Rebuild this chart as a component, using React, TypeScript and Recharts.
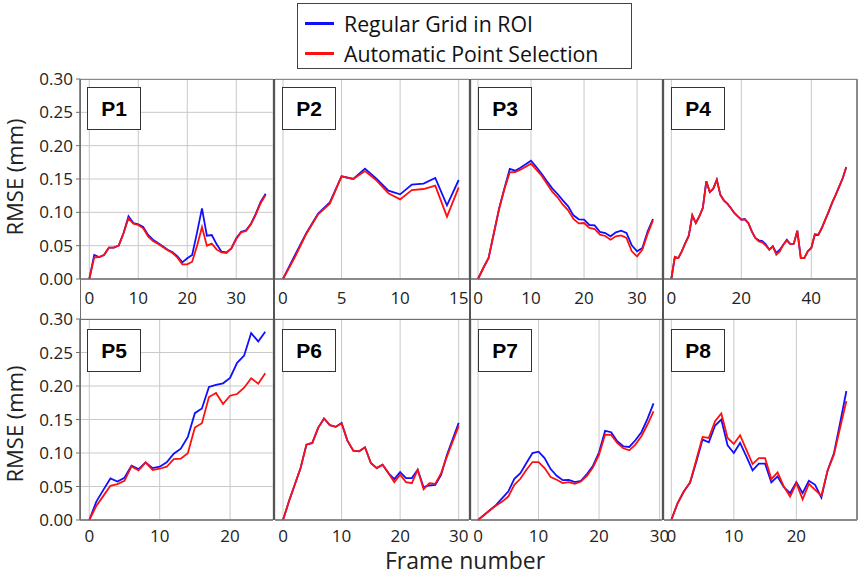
import React from 'react';
import { LineChart, Line, XAxis, YAxis, CartesianGrid } from 'recharts';

const BLUE = '#1010ff';
const RED = '#ff1010';
const FONT = '"Open Sans", "Noto Sans", sans-serif';

const seriesNames = ['Regular Grid in ROI', 'Automatic Point Selection'];
const yTicks = [0, 0.05, 0.1, 0.15, 0.2, 0.25, 0.3];

// P1
const p1Grid = [0, 0.036, 0.033, 0.036, 0.047, 0.047, 0.05, 0.069, 0.094, 0.084, 0.082, 0.078, 0.066, 0.059, 0.054, 0.049, 0.044, 0.04, 0.034, 0.025, 0.031, 0.036, 0.07, 0.106, 0.065, 0.066, 0.052, 0.041, 0.04, 0.046, 0.061, 0.071, 0.073, 0.083, 0.098, 0.116, 0.128];
const p1Auto = [0, 0.032, 0.033, 0.036, 0.047, 0.047, 0.05, 0.069, 0.091, 0.083, 0.081, 0.076, 0.064, 0.057, 0.053, 0.048, 0.043, 0.039, 0.032, 0.022, 0.022, 0.026, 0.05, 0.078, 0.05, 0.053, 0.044, 0.04, 0.039, 0.046, 0.06, 0.07, 0.072, 0.082, 0.097, 0.114, 0.126];
const p1Ticks = [0, 10, 20, 30];

// P2
const p2Grid = [0, 0.035, 0.069, 0.098, 0.115, 0.154, 0.15, 0.1655, 0.15, 0.1325, 0.127, 0.1415, 0.143, 0.1515, 0.1105, 0.1485];
const p2Auto = [0, 0.032, 0.068, 0.097, 0.113, 0.154, 0.15, 0.162, 0.1475, 0.1285, 0.1195, 0.1335, 0.135, 0.14, 0.0935, 0.1375];
const p2Ticks = [0, 5, 10, 15];

// P3
const p3Grid = [0, 0.0165, 0.0315, 0.069, 0.1065, 0.1365, 0.165, 0.1625, 0.167, 0.172, 0.1775, 0.168, 0.158, 0.1465, 0.136, 0.1275, 0.118, 0.109, 0.0955, 0.0895, 0.089, 0.081, 0.0805, 0.0705, 0.069, 0.064, 0.07, 0.0725, 0.069, 0.0505, 0.0415, 0.0465, 0.0715, 0.09];
const p3Auto = [0, 0.0165, 0.0315, 0.069, 0.1055, 0.1355, 0.16, 0.1605, 0.164, 0.1685, 0.173, 0.164, 0.155, 0.143, 0.131, 0.1225, 0.1115, 0.103, 0.09, 0.0835, 0.084, 0.0765, 0.075, 0.0665, 0.0645, 0.059, 0.064, 0.0655, 0.0615, 0.0415, 0.034, 0.044, 0.068, 0.088];
const p3Ticks = [0, 10, 20, 30];

// P4
const p4Grid = [0, 0.033, 0.0315, 0.0415, 0.054, 0.065, 0.0955, 0.084, 0.094, 0.1065, 0.1465, 0.1305, 0.1355, 0.149, 0.1265, 0.118, 0.113, 0.1065, 0.099, 0.094, 0.089, 0.09, 0.084, 0.0715, 0.0615, 0.058, 0.057, 0.052, 0.044, 0.049, 0.039, 0.044, 0.0515, 0.059, 0.0525, 0.053, 0.0725, 0.0315, 0.0315, 0.0415, 0.0465, 0.066, 0.066, 0.0765, 0.089, 0.1015, 0.115, 0.1265, 0.139, 0.1515, 0.168];
const p4Auto = [0, 0.033, 0.0315, 0.0415, 0.054, 0.065, 0.0955, 0.084, 0.094, 0.1065, 0.1465, 0.1305, 0.1355, 0.149, 0.1265, 0.118, 0.113, 0.1065, 0.099, 0.094, 0.089, 0.089, 0.084, 0.0715, 0.0615, 0.0565, 0.055, 0.05, 0.044, 0.049, 0.0365, 0.0415, 0.0515, 0.0575, 0.0525, 0.053, 0.0725, 0.0315, 0.0315, 0.0415, 0.0465, 0.0675, 0.0665, 0.0765, 0.089, 0.1015, 0.115, 0.1265, 0.139, 0.1515, 0.168];
const p4Ticks = [0, 20, 40];

// P5
const p5Grid = [0, 0.0275, 0.045, 0.062, 0.0575, 0.063, 0.081, 0.076, 0.086, 0.0775, 0.0795, 0.086, 0.099, 0.1065, 0.124, 0.1595, 0.1665, 0.1985, 0.2015, 0.204, 0.212, 0.2345, 0.2455, 0.279, 0.2665, 0.281];
const p5Auto = [0, 0.021, 0.036, 0.051, 0.0535, 0.0585, 0.08, 0.074, 0.086, 0.0745, 0.0765, 0.0795, 0.091, 0.0915, 0.0995, 0.138, 0.1445, 0.1835, 0.1895, 0.173, 0.1855, 0.188, 0.1975, 0.2115, 0.2035, 0.219];
const p5Ticks = [0, 10, 20];

// P6
const p6Grid = [0, 0.0275, 0.0525, 0.0775, 0.1125, 0.115, 0.1375, 0.1515, 0.1415, 0.139, 0.145, 0.1185, 0.1035, 0.1025, 0.1085, 0.085, 0.0775, 0.0825, 0.07, 0.061, 0.0715, 0.0625, 0.0625, 0.075, 0.049, 0.0515, 0.0525, 0.0675, 0.0975, 0.121, 0.145];
const p6Auto = [0, 0.0275, 0.0525, 0.0775, 0.1125, 0.115, 0.1375, 0.1515, 0.1415, 0.139, 0.144, 0.1185, 0.1035, 0.1025, 0.1085, 0.085, 0.0775, 0.0825, 0.07, 0.0565, 0.0675, 0.0565, 0.055, 0.075, 0.046, 0.055, 0.054, 0.07, 0.095, 0.1175, 0.14];
const p6Ticks = [0, 10, 20, 30];

// P7
const p7Grid = [0, 0.0075, 0.015, 0.0225, 0.0325, 0.0425, 0.0615, 0.07, 0.085, 0.1, 0.102, 0.0925, 0.076, 0.066, 0.0595, 0.06, 0.0565, 0.0585, 0.0685, 0.081, 0.101, 0.133, 0.131, 0.1175, 0.11, 0.109, 0.119, 0.131, 0.151, 0.174];
const p7Auto = [0, 0.0075, 0.015, 0.0215, 0.0275, 0.035, 0.0525, 0.0615, 0.075, 0.0865, 0.0865, 0.0775, 0.064, 0.06, 0.055, 0.0565, 0.054, 0.0575, 0.066, 0.0785, 0.0975, 0.1275, 0.127, 0.115, 0.107, 0.104, 0.1125, 0.125, 0.1425, 0.162];
const p7Ticks = [0, 10, 20, 30];

// P8
const p8Grid = [0, 0.025, 0.0425, 0.056, 0.087, 0.12, 0.116, 0.141, 0.15, 0.1115, 0.1, 0.115, 0.095, 0.074, 0.084, 0.084, 0.056, 0.065, 0.049, 0.04, 0.0565, 0.04, 0.0585, 0.0525, 0.0335, 0.074, 0.099, 0.145, 0.1925];
const p8Auto = [0, 0.025, 0.0425, 0.056, 0.09, 0.124, 0.1225, 0.1475, 0.159, 0.1225, 0.1135, 0.1265, 0.105, 0.0835, 0.0925, 0.0925, 0.061, 0.071, 0.05, 0.035, 0.055, 0.031, 0.054, 0.045, 0.036, 0.074, 0.0975, 0.1375, 0.1775];
const p8Ticks = [0, 10, 20];

type PanelProps = {
  name: string;
  grid: number[];
  auto: number[];
  ticks: number[];
  domain: [number, number];
  left: number;
  top: number;
  width: number;
  plotH: number;
  showY: boolean;
  tickGap: number;
  boxTop: number;
};

const Panel = ({ name, grid, auto, ticks, domain, left, top, width, plotH, showY, tickGap, boxTop }: PanelProps) => {
  const data = grid.map((g, i) => ({ frame: i, grid: g, auto: auto[i] }));
  const yW = showY ? 80 : 0;
  return (
    <div style={{ position: 'absolute', left, top }}>
      <LineChart width={width} height={9 + plotH + 40} data={data} margin={{ top: 9, right: 0, left: 0, bottom: 0 }}>
        <CartesianGrid stroke="#c9c9c9" strokeWidth={1} />
        <XAxis
          dataKey="frame"
          type="number"
          domain={domain}
          ticks={ticks}
          interval={0}
          height={40}
          tickLine={false}
          tickSize={0}
          tickMargin={tickGap}
          axisLine={{ stroke: '#6e6e6e', strokeWidth: 1.5 }}
          tick={{ fill: '#222', fontSize: 17, fontFamily: FONT }}
        />
        <YAxis
          domain={[0, 0.3]}
          ticks={yTicks}
          interval={0}
          width={yW}
          tick={showY ? { fill: '#222', fontSize: 17, fontFamily: FONT } : false}
          tickFormatter={(v: number) => v.toFixed(2)}
          axisLine={showY ? { stroke: '#6e6e6e', strokeWidth: 1.5 } : false}
          tickLine={showY ? { stroke: '#6e6e6e' } : false}
          tickSize={4}
          tickMargin={3}
        />
        <Line dataKey="grid" name={seriesNames[0]} stroke={BLUE} strokeWidth={1.8} dot={false} type="linear" isAnimationActive={false} />
        <Line dataKey="auto" name={seriesNames[1]} stroke={RED} strokeWidth={1.8} dot={false} type="linear" isAnimationActive={false} />
      </LineChart>
      <div
        style={{
          position: 'absolute',
          left: yW + 7,
          top: boxTop,
          width: 52,
          height: 41,
          border: '1px solid #333',
          background: '#fff',
          display: 'flex',
          alignItems: 'center',
          justifyContent: 'center',
          fontFamily: '"Liberation Sans", Arial, sans-serif',
          fontWeight: 700,
          fontSize: 21,
          color: '#000',
        }}
      >
        {name}
      </div>
    </div>
  );
};

const vLine = (x: number, w: number, color: string, y1: number, y2: number) => (
  <div style={{ position: 'absolute', left: x, top: y1, width: w, height: y2 - y1, background: color }} />
);
const hLine = (y: number, x1: number, x2: number, color: string) => (
  <div style={{ position: 'absolute', left: x1, top: y, width: x2 - x1, height: 1.5, background: color }} />
);

export default function App() {
  return (
    <div style={{ position: 'absolute', left: 0, top: 0, width: 858, height: 574, background: '#fff', overflow: 'hidden' }}>
      <style>{'.recharts-surface{overflow:visible}'}</style>

      <Panel name="P1" grid={p1Grid} auto={p1Auto} ticks={p1Ticks} domain={[-1.9, 37.5]} left={0} top={70} width={273} plotH={200} showY tickGap={13} boxTop={17} />
      <Panel name="P2" grid={p2Grid} auto={p2Auto} ticks={p2Ticks} domain={[-0.68, 15.88]} left={275} top={70} width={194} plotH={200} showY={false} tickGap={13} boxTop={17} />
      <Panel name="P3" grid={p3Grid} auto={p3Auto} ticks={p3Ticks} domain={[-1.32, 34.7]} left={471} top={70} width={191} plotH={200} showY={false} tickGap={13} boxTop={17} />
      <Panel name="P4" grid={p4Grid} auto={p4Auto} ticks={p4Ticks} domain={[-2.09, 53.06]} left={664} top={70} width={193} plotH={200} showY={false} tickGap={13} boxTop={17} />

      <Panel name="P5" grid={p5Grid} auto={p5Auto} ticks={p5Ticks} domain={[-1.32, 26.1]} left={0} top={310} width={273} plotH={201} showY tickGap={10} boxTop={19} />
      <Panel name="P6" grid={p6Grid} auto={p6Auto} ticks={p6Ticks} domain={[-1.37, 31.76]} left={275} top={310} width={194} plotH={201} showY={false} tickGap={10} boxTop={19} />
      <Panel name="P7" grid={p7Grid} auto={p7Auto} ticks={p7Ticks} domain={[-1.16, 30.4]} left={471} top={310} width={191} plotH={201} showY={false} tickGap={10} boxTop={19} />
      <Panel name="P8" grid={p8Grid} auto={p8Auto} ticks={p8Ticks} domain={[-1.17, 29.7]} left={664} top={310} width={193} plotH={201} showY={false} tickGap={10} boxTop={19} />

      {/* frame */}
      {hLine(78.5, 80, 857, '#8a8a8a')}
      {hLine(318.5, 80, 857, '#6e6e6e')}
      {vLine(79.5, 1.5, '#6e6e6e', 79, 520)}
      {vLine(273, 2, '#555', 79, 520)}
      {vLine(469, 2, '#555', 79, 520)}
      {vLine(662, 2, '#555', 79, 520)}
      {vLine(856, 1.5, '#8a8a8a', 79, 520)}

      {/* y titles */}
      {['RMSE (mm)', 'RMSE (mm)'].map((t, i) => (
        <div
          key={i}
          style={{
            position: 'absolute',
            left: 14,
            top: i === 0 ? 177 : 424,
            transform: 'translate(-50%, -50%) rotate(-90deg)',
            whiteSpace: 'nowrap',
            lineHeight: 1,
            fontFamily: FONT,
            fontSize: 22,
            color: '#222',
          }}
        >
          {t}
        </div>
      ))}

      {/* x title */}
      <div
        style={{
          position: 'absolute',
          left: 465,
          top: 560,
          transform: 'translate(-50%, -50%)',
          whiteSpace: 'nowrap',
          lineHeight: 1,
          fontFamily: FONT,
          fontSize: 23,
          color: '#222',
        }}
      >
        Frame number
      </div>

      {/* legend */}
      <div
        style={{
          position: 'absolute',
          left: 297,
          top: 3,
          width: 333,
          height: 64,
          border: '1px solid #444',
          background: '#fff',
          fontFamily: FONT,
          fontSize: 21.3,
          color: '#111',
        }}
      >
        {seriesNames.map((n, i) => (
          <div key={n} style={{ position: 'absolute', left: 7, top: i === 0 ? 4 : 34, height: 30, display: 'flex', alignItems: 'center', whiteSpace: 'nowrap' }}>
            <span style={{ display: 'inline-block', width: 29, height: 3, background: i === 0 ? BLUE : RED, marginRight: 10 }} />
            {n}
          </div>
        ))}
      </div>
    </div>
  );
}
